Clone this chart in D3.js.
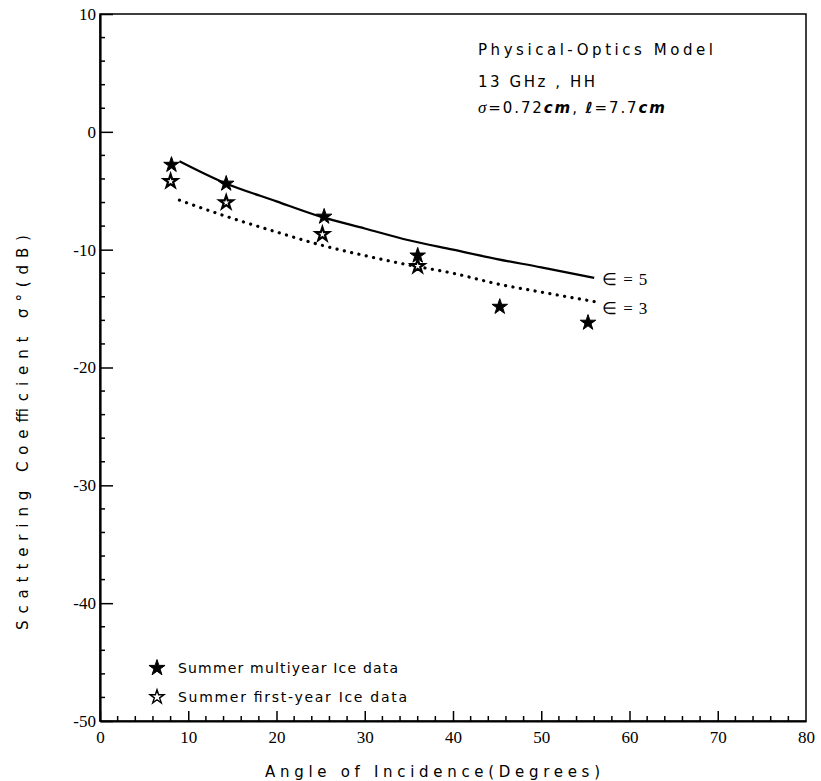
<!DOCTYPE html>
<html>
<head>
<meta charset="utf-8">
<script src="https://cdn.jsdelivr.net/npm/d3@7"></script>
<style>
  body { margin: 0; background: #fff; }
  svg { display: block; }
</style>
</head>
<body>
<svg id="chart" width="821" height="781"></svg>
<script>
// measured data (angle in degrees, sigma0 in dB)
var multiAngle = [8.1, 14.3, 25.4, 36.0, 45.3, 55.3];
var multiDb = [-2.8, -4.4, -7.2, -10.5, -14.85, -16.2];
var firstAngle = [8.0, 14.3, 25.2, 36.0];
var firstDb = [-4.2, -6.0, -8.7, -11.4];

// physical-optics model curves
var modelAngle = [9, 14, 20, 25, 30, 35, 40, 45, 50, 56];
var eps5Db = [-2.5, -4.3, -5.9, -7.2, -8.2, -9.2, -10.0, -10.8, -11.5, -12.4];
var eps3Db = [-5.8, -7.1, -8.5, -9.6, -10.5, -11.3, -12.0, -12.9, -13.6, -14.4];

var xTicks = [0, 10, 20, 30, 40, 50, 60, 70, 80];
var yTicks = [10, 0, -10, -20, -30, -40, -50];

var labelFont = "'DejaVu Sans', 'Liberation Sans', sans-serif";
var numFont = "'Liberation Serif', 'Times New Roman', serif";

var svg = d3.select("#chart");
var margin = {left: 100, top: 14, right: 15, bottom: 60};
var width = 806 - margin.left, height = 721 - margin.top;

var x = d3.scaleLinear().domain([0, 80]).range([0, width]);
var y = d3.scaleLinear().domain([-50, 10]).range([height, 0]);

var g = svg.append("g").attr("transform", "translate(" + margin.left + "," + margin.top + ")");

// stretch a label to the width it has in the scan
function fit(sel, len) {
  sel.attr("textLength", len).attr("lengthAdjust", "spacing");
}

// frame (top and right are plain lines)
g.append("rect").attr("x", 0).attr("y", 0).attr("width", width).attr("height", height)
  .attr("fill", "none").attr("stroke", "#000").attr("stroke-width", 1.5);

// minor ticks every 2 units, pointing inward
var xMinor = d3.range(0, 81, 2).filter(function(d){ return d % 10 != 0; });
var yMinor = d3.range(-50, 11, 2).filter(function(d){ return d % 10 != 0; });

g.append("g").selectAll("line").data(xMinor).join("line")
  .attr("x1", x).attr("x2", x).attr("y1", height).attr("y2", height - 5)
  .attr("stroke", "#000").attr("stroke-width", 1.5);
g.append("g").selectAll("line").data(yMinor).join("line")
  .attr("y1", y).attr("y2", y).attr("x1", 0).attr("x2", 5)
  .attr("stroke", "#000").attr("stroke-width", 1.5);

var xAxis = g.append("g").attr("transform", "translate(0," + height + ")")
  .call(d3.axisBottom(x).tickValues(xTicks).tickSizeInner(-10).tickSizeOuter(0).tickPadding(10));
var yAxis = g.append("g")
  .call(d3.axisLeft(y).tickValues(yTicks).tickSizeInner(-13).tickSizeOuter(0).tickPadding(4)
    .tickFormat(function(d){ return String(d); }));
[xAxis, yAxis].forEach(function(a){
  a.attr("font-family", numFont).attr("font-size", 17);
  a.select(".domain").attr("stroke-width", 2.2);
  a.selectAll(".tick line").attr("stroke-width", 1.5);
});
xAxis.selectAll(".tick").filter(function(d){ return d == 80; }).select("line").remove();

// model curves
var line = d3.line().x(function(d){ return x(d[0]); }).y(function(d){ return y(d[1]); }).curve(d3.curveMonotoneX);
g.append("path").datum(modelAngle.map(function(a, i){ return [a, eps5Db[i]]; }))
  .attr("d", line).attr("fill", "none").attr("stroke", "#000").attr("stroke-width", 2.2);
g.append("path").datum(modelAngle.map(function(a, i){ return [a, eps3Db[i]]; }))
  .attr("d", line).attr("fill", "none").attr("stroke", "#000").attr("stroke-width", 3.2)
  .attr("stroke-linecap", "round").attr("stroke-dasharray", "0.1,7.4");

g.append("text").attr("x", x(56) + 8).attr("y", y(eps5Db[9]) + 7)
  .attr("font-family", numFont).attr("font-size", 17).text("\u2208=5").call(fit, 45);
g.append("text").attr("x", x(56) + 8).attr("y", y(eps3Db[9]) + 12)
  .attr("font-family", numFont).attr("font-size", 17).text("\u2208=3").call(fit, 45);

// stars
var star = d3.symbol().type(d3.symbolStar);
g.append("g").selectAll("path").data(firstAngle.map(function(a, i){ return [a, firstDb[i]]; })).join("path")
  .attr("d", star.size(55))
  .attr("transform", function(d){ return "translate(" + x(d[0]) + "," + y(d[1]) + ")"; })
  .attr("fill", "#fff").attr("stroke", "#000").attr("stroke-width", 2.2);
g.append("g").selectAll("path").data(multiAngle.map(function(a, i){ return [a, multiDb[i]]; })).join("path")
  .attr("d", star.size(75))
  .attr("transform", function(d){ return "translate(" + x(d[0]) + "," + y(d[1]) + ")"; })
  .attr("fill", "#000").attr("stroke", "#000").attr("stroke-width", 1);

// annotation
var note = ["Physical-Optics Model", "13 GHz , HH"];
var noteLen = [235, 117];
g.append("g").selectAll("text").data(note).join("text")
  .attr("x", 378).attr("y", function(d, i){ return [41, 73][i]; })
  .attr("font-family", labelFont).attr("font-size", 15)
  .attr("textLength", function(d, i){ return noteLen[i]; }).attr("lengthAdjust", "spacing")
  .text(function(d){ return d; });
var third = g.append("text").attr("x", 378).attr("y", 99)
  .attr("font-family", labelFont).attr("font-size", 15).call(fit, 187);
third.append("tspan").attr("font-style", "italic").attr("font-family", numFont).attr("font-size", 17).text("\u03c3");
third.append("tspan").text("=0.72");
third.append("tspan").attr("font-style", "italic").attr("font-weight", "bold").text("cm");
third.append("tspan").text(", ");
third.append("tspan").attr("font-style", "italic").attr("font-weight", "bold").text("\u2113");
third.append("tspan").text("=7.7");
third.append("tspan").attr("font-style", "italic").attr("font-weight", "bold").text("cm");

// legend
var legend = [["Summer multiyear Ice data", true, 220], ["Summer first-year Ice data", false, 229]];
var lg = g.append("g").selectAll("g").data(legend).join("g")
  .attr("transform", function(d, i){ return "translate(57," + (654 + i * 29) + ")"; });
lg.append("path").attr("d", function(d){ return star.size(d[1] ? 80 : 60)(); })
  .attr("fill", function(d){ return d[1] ? "#000" : "#fff"; })
  .attr("stroke", "#000").attr("stroke-width", function(d){ return d[1] ? 1 : 1.4; });
lg.append("text").attr("x", 21).attr("y", 5).attr("font-family", labelFont).attr("font-size", 14)
  .attr("textLength", function(d){ return d[2]; }).attr("lengthAdjust", "spacing")
  .text(function(d){ return d[0]; });

// axis titles
svg.append("text").attr("x", 265).attr("y", 777)
  .attr("font-family", labelFont).attr("font-size", 15)
  .text("Angle of Incidence(Degrees)").call(fit, 335);
svg.append("text").attr("transform", "translate(28,630) rotate(-90)")
  .attr("font-family", labelFont).attr("font-size", 15)
  .text("Scattering Coefficient \u03c3\u00b0(dB)").call(fit, 395);
</script>
</body>
</html>
